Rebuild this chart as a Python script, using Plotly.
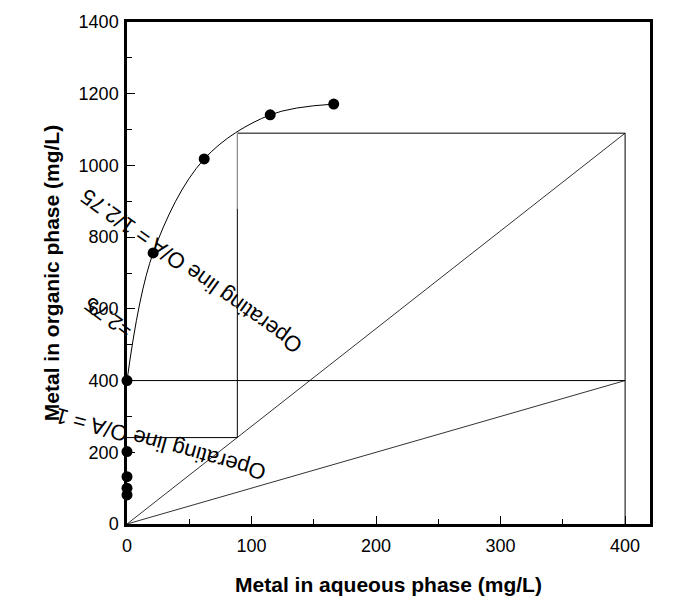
import plotly.graph_objects as go

# Equilibrium (isotherm) data points
iso_x = [0, 0, 0, 0, 0, 21, 62, 115, 166]
iso_y = [81, 100, 132, 202, 400, 756, 1018, 1141, 1171]

# Smooth isotherm curve drawn through these points
curve_x = [0, 21, 62, 115, 166]
curve_y = [400, 756, 1018, 1141, 1171]

# Operating lines
op1_x = [0, 400]
op1_y = [0, 1090]
op2_x = [0, 400]
op2_y = [0, 400]

# Stage construction lines
stage_x = [88.6, 400, 400, None, 0, 400, None, 88.6, 88.6, None, 0, 88.6]
stage_y = [1090, 1090, 0, None, 400, 400, None, 880, 241, None, 241, 241]
stage_grey_x = [88.6, 88.6]
stage_grey_y = [1090, 880]

x_ticks = [0, 100, 200, 300, 400]
y_ticks = [0, 200, 400, 600, 800, 1000, 1200, 1400]

label_upper = "Operating line O/A = 1/2.75"
label_lower = "Operating line O/A = 1"
label_extra = "=2.75"

FONT = "Liberation Sans, Arial, sans-serif"

fig = go.Figure()
fig.add_trace(go.Scatter(x=op1_x, y=op1_y, mode="lines",
                         line=dict(color="#333333", width=1), showlegend=False))
fig.add_trace(go.Scatter(x=op2_x, y=op2_y, mode="lines",
                         line=dict(color="#333333", width=1), showlegend=False))
fig.add_trace(go.Scatter(x=stage_x, y=stage_y, mode="lines",
                         line=dict(color="black", width=1), showlegend=False))
fig.add_trace(go.Scatter(x=stage_grey_x, y=stage_grey_y, mode="lines",
                         line=dict(color="#888888", width=1.2), showlegend=False))
fig.add_trace(go.Scatter(x=curve_x, y=curve_y, mode="lines",
                         line=dict(color="black", width=1, shape="spline", smoothing=1.0),
                         showlegend=False))
fig.add_trace(go.Scatter(x=iso_x, y=iso_y, mode="markers",
                         marker=dict(color="black", size=11), cliponaxis=False,
                         showlegend=False))

fig.add_annotation(x=51.5, y=705, text=label_upper, showarrow=False, textangle=-144.5,
                   font=dict(family=FONT, size=22, color="black"))
fig.add_annotation(x=27, y=224, text=label_lower, showarrow=False, textangle=-164.5,
                   font=dict(family=FONT, size=22, color="black"))
fig.add_annotation(xref="paper", yref="paper", x=-0.036, y=0.41, xanchor="center",
                   yanchor="middle", text=label_extra, showarrow=False, textangle=-143.5,
                   font=dict(family=FONT, size=21, color="black"))

axis_common = dict(
    showgrid=False, zeroline=False, showline=True, linecolor="black", linewidth=2.5,
    mirror=True, ticks="inside", ticklen=8, tickwidth=1.2, tickcolor="black",
    tickfont=dict(family=FONT, size=18, color="black"),
)

fig.update_xaxes(range=[0, 420], tickvals=x_ticks, ticklabelstandoff=4,
                 minor=dict(ticks="inside", ticklen=5, tickwidth=1, tickcolor="black", dtick=50, tick0=0),
                 title=dict(text="<b>Metal in aqueous phase (mg/L)</b>",
                            font=dict(family=FONT, size=21, color="black"), standoff=22),
                 **axis_common)
fig.update_yaxes(range=[0, 1400], tickvals=y_ticks, ticklabelstandoff=2,
                 minor=dict(ticks="inside", ticklen=5, tickwidth=1, tickcolor="black", dtick=100, tick0=0),
                 title=dict(text="<b>Metal in organic phase (mg/L)</b>",
                            font=dict(family=FONT, size=21, color="black"), standoff=14),
                 **axis_common)

fig.update_layout(width=687, height=612, margin=dict(l=127, r=37, t=22, b=88),
                  plot_bgcolor="white", paper_bgcolor="white", showlegend=False)

fig.write_html("out.html")
